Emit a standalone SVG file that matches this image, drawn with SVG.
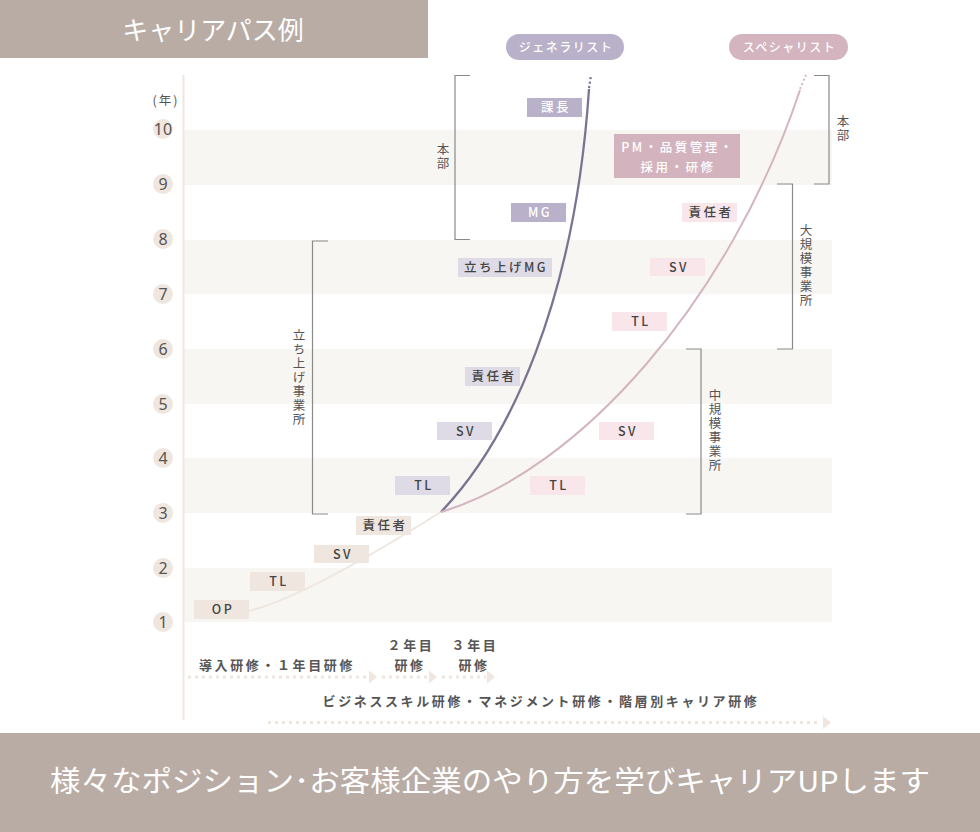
<svg xmlns="http://www.w3.org/2000/svg" width="980" height="832" viewBox="0 0 980 832">
<style>
text{font-family:"Noto Sans CJK JP","Noto Sans",sans-serif;}
.bl{font-size:12.5px;letter-spacing:2.5px;text-anchor:middle;fill:#444;font-weight:500;}
.bw{font-size:12.5px;letter-spacing:2.5px;text-anchor:middle;fill:#ffffff;font-weight:500;}
.yr{font-family:"Noto Sans",sans-serif;font-size:16px;fill:#555;text-anchor:middle;}
.vt{font-size:12.5px;fill:#555;writing-mode:vertical-rl;letter-spacing:1.6px;}
.tr{font-size:13px;letter-spacing:2.6px;fill:#555;text-anchor:middle;font-weight:600;}
.beige{fill:#efe6df;}
.gl{fill:#dedae6;}
.gd{fill:#b9b1c9;}
.pl{fill:#f8e6ea;}
.pd{fill:#d3b3bd;}
.stripe{fill:#f8f6f3;}
.br{fill:none;stroke:#8a8a8a;stroke-width:1.2;}
.dots{fill:none;stroke:#efe6df;stroke-width:3;stroke-dasharray:3 4;}
</style>

<g id="header">
<rect x="0" y="0" width="428" height="58" fill="#b9aca5"/>
<text x="213" y="40" font-size="26" fill="#ffffff" text-anchor="middle">キャリアパス例</text>
</g>

<g id="stripes">
<rect class="stripe" x="184" y="130" width="648" height="55"/>
<rect class="stripe" x="184" y="240" width="648" height="54"/>
<rect class="stripe" x="184" y="349" width="648" height="55"/>
<rect class="stripe" x="184" y="458" width="648" height="55"/>
<rect class="stripe" x="184" y="568" width="648" height="54"/>
</g>

<g id="axis">
<line x1="183.5" y1="75" x2="183.5" y2="720" stroke="#efe6df" stroke-width="2"/>
<text x="166" y="104.5" font-size="12.5" fill="#555" text-anchor="middle" letter-spacing="2">(年)</text>
<g class="beige">
<circle cx="163" cy="129" r="10"/><circle cx="163" cy="184" r="10"/><circle cx="163" cy="239" r="10"/><circle cx="163" cy="294" r="10"/><circle cx="163" cy="349" r="10"/><circle cx="163" cy="404" r="10"/><circle cx="163" cy="458" r="10"/><circle cx="163" cy="513" r="10"/><circle cx="163" cy="568" r="10"/><circle cx="163" cy="622" r="10"/>
</g>
<text class="yr" x="163" y="135">10</text>
<text class="yr" x="163" y="190">9</text>
<text class="yr" x="163" y="245">8</text>
<text class="yr" x="163" y="300">7</text>
<text class="yr" x="163" y="355">6</text>
<text class="yr" x="163" y="410">5</text>
<text class="yr" x="163" y="464">4</text>
<text class="yr" x="163" y="519">3</text>
<text class="yr" x="163" y="574">2</text>
<text class="yr" x="163" y="628">1</text>
</g>

<g id="connectors">
<path d="M249,611 C300,598 380,550 441,512" fill="none" stroke="#efe6df" stroke-width="2"/>
<path d="M441,512 C510,440 575,300 589,89" fill="none" stroke="#7b7391" stroke-width="2.3"/>
<path d="M589,88 L591,75" fill="none" stroke="#7b7391" stroke-width="2.3" stroke-dasharray="2 2.5"/>
<path d="M441,512 C580,470 730,300 800,90" fill="none" stroke="#d4b5bf" stroke-width="2"/>
<path d="M800,89 L806,75" fill="none" stroke="#d4b5bf" stroke-width="2" stroke-dasharray="2 2.5"/>
</g>

<g id="pill-generalist">
<rect x="506" y="34" width="118" height="26" rx="13" fill="#b9b1c9"/>
<text x="566" y="51.5" font-size="12" letter-spacing="1.5" fill="#ffffff" text-anchor="middle" font-weight="500">ジェネラリスト</text>
</g>
<g id="pill-specialist">
<rect x="729" y="34" width="119" height="26" rx="13" fill="#d4b4be"/>
<text x="789.5" y="51.5" font-size="12" letter-spacing="1.5" fill="#ffffff" text-anchor="middle" font-weight="500">スペシャリスト</text>
</g>

<g id="box-op"><rect class="beige" x="194" y="600" width="55" height="19"/><text class="bl" x="223" y="614">OP</text></g>
<g id="box-tl-1"><rect class="beige" x="250" y="572" width="55" height="19"/><text class="bl" x="279" y="586">TL</text></g>
<g id="box-sv-1"><rect class="beige" x="314" y="545" width="55" height="18"/><text class="bl" x="343" y="558.5">SV</text></g>
<g id="box-sekinin-1"><rect class="beige" x="356" y="516" width="55" height="19"/><text class="bl" x="385" y="530">責任者</text></g>

<g id="box-g-tl"><rect class="gl" x="395" y="476" width="55" height="19"/><text class="bl" x="424" y="490">TL</text></g>
<g id="box-g-sv"><rect class="gl" x="437" y="422" width="55" height="18"/><text class="bl" x="466" y="435.5">SV</text></g>
<g id="box-g-sekinin"><rect class="gl" x="465" y="367" width="55" height="19"/><text class="bl" x="494" y="381">責任者</text></g>
<g id="box-g-tachiage"><rect class="gl" x="458" y="258" width="94" height="19"/><text class="bl" x="506" y="272">立ち上げMG</text></g>
<g id="box-g-mg"><rect class="gd" x="511" y="203" width="55" height="19"/><text class="bw" x="540" y="217">MG</text></g>
<g id="box-g-kacho"><rect class="gd" x="527" y="98" width="55" height="19"/><text class="bw" x="556" y="112">課長</text></g>

<g id="box-s-tl"><rect class="pl" x="530" y="476" width="55" height="19"/><text class="bl" x="559" y="490">TL</text></g>
<g id="box-s-sv"><rect class="pl" x="599" y="422" width="55" height="18"/><text class="bl" x="628" y="435.5">SV</text></g>
<g id="box-s-tl2"><rect class="pl" x="612" y="312" width="55" height="19"/><text class="bl" x="641" y="326">TL</text></g>
<g id="box-s-sv2"><rect class="pl" x="650" y="258" width="55" height="18"/><text class="bl" x="679" y="271.5">SV</text></g>
<g id="box-s-sekinin"><rect class="pl" x="682" y="203" width="55" height="19"/><text class="bl" x="711" y="217">責任者</text></g>
<g id="box-s-pm"><rect class="pd" x="614" y="134" width="126" height="44"/>
<text class="bw" x="678" y="151.5" letter-spacing="1.5">PM・品質管理・</text>
<text class="bw" x="678" y="171.5" letter-spacing="1.5">採用・研修</text></g>

<g id="bracket-honbu-g">
<path class="br" d="M470,75.5 H455 V239.5 H470"/>
<text class="vt" x="443" y="143">本部</text>
</g>
<g id="bracket-tachiage">
<path class="br" d="M328,241 H312.5 V514 H328"/>
<text class="vt" x="299" y="328.5">立ち上げ事業所</text>
</g>
<g id="bracket-honbu-s">
<path class="br" d="M814,75.5 H829 V184 H814"/>
<text class="vt" x="843" y="115">本部</text>
</g>
<g id="bracket-daikibo">
<path class="br" d="M777,184 H792.5 V349 H777"/>
<text class="vt" x="806" y="224">大規模事業所</text>
</g>
<g id="bracket-chukibo">
<path class="br" d="M686,349 H701 V514 H686"/>
<text class="vt" x="715" y="389">中規模事業所</text>
</g>

<g id="training">
<text class="tr" x="277" y="669.5">導入研修・１年目研修</text>
<text class="tr" x="411" y="649.5">２年目</text>
<text class="tr" x="410" y="669.5">研修</text>
<text class="tr" x="475" y="649.5">３年目</text>
<text class="tr" x="474" y="669.5">研修</text>
<text class="tr" x="541" y="706">ビジネススキル研修・マネジメント研修・階層別キャリア研修</text>
<path class="dots" d="M188,677 H367"/>
<polygon class="beige" points="369,670.5 377,677 369,683.5"/>
<path class="dots" d="M382,677 H428"/>
<polygon class="beige" points="429,670.5 437,677 429,683.5"/>
<path class="dots" d="M442,677 H486"/>
<polygon class="beige" points="487,670.5 495,677 487,683.5"/>
<path class="dots" d="M268,722.5 H820"/>
<polygon class="beige" points="823,716 831,722.5 823,729"/>
</g>

<g id="footer">
<rect x="0" y="733" width="980" height="99" fill="#b9aca5"/>
<text x="50" y="792" font-size="29" fill="#ffffff" textLength="880" lengthAdjust="spacingAndGlyphs">様々なポジション･お客様企業のやり方を学びキャリアUPします</text>
</g>
</svg>
